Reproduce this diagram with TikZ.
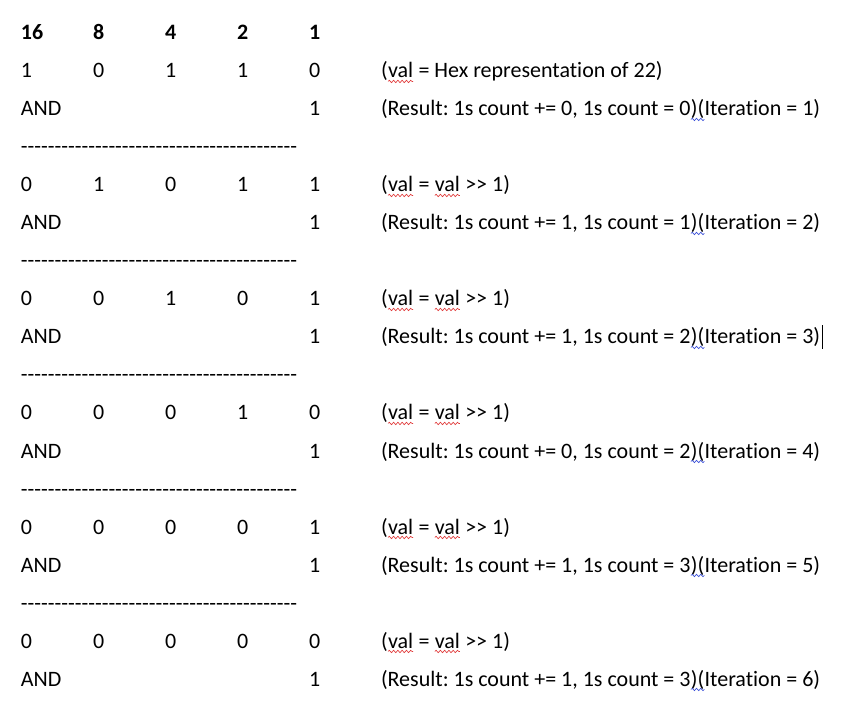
\documentclass[tikz,border=0pt]{standalone}
\usepackage{fontspec}
\setmainfont{Carlito}[Ligatures={TeXOff,NoCommon}]
\usetikzlibrary{decorations.pathmorphing}
\definecolor{spellred}{HTML}{E03A3A}
\definecolor{gramblue}{HTML}{3A4FD8}
\newcommand{\wavy}[2]{\tikz[baseline=(w.base)]{\node[inner sep=0pt,outer sep=0pt](w){#2};\draw[#1,line width=0.5pt,decorate,decoration={snake,amplitude=0.9pt,segment length=3.2pt}] ([yshift=-2.6pt]w.base west) -- ([yshift=-2.6pt]w.base east);}}
\newcommand{\dashrow}{-----------------------------------------}
\tikzset{
  txt/.style={anchor=base west,inner sep=0pt,outer sep=0pt,font=\fontsize{16.5pt}{19pt}\selectfont\frenchspacing},
  hdr/.style={txt,font=\fontsize{16.5pt}{19pt}\selectfont\bfseries},
}
\begin{document}
\begin{tikzpicture}[x=0.75pt,y=-0.75pt]
\useasboundingbox (0,0) rectangle (856,712);
% header
\node[hdr] (h16) at (21,40) {16};
\node[hdr] (h8) at (93,40) {8};
\node[hdr] (h4) at (165,40) {4};
\node[hdr] (h2) at (237,40) {2};
\node[hdr] (h1) at (309,40) {1};
% block 1
\node[txt] (a1) at (21,78) {1};
\node[txt] (b1) at (93,78) {0};
\node[txt] (c1) at (165,78) {1};
\node[txt] (d1) at (237,78) {1};
\node[txt] (e1) at (309,78) {0};
\node[txt] (v1) at (381,78) {(\wavy{spellred}{val} = Hex representation of 22)};
\node[txt] (n1) at (21,116) {AND};
\node[txt] (m1) at (309,116) {1};
\node[txt] (r1) at (381,116) {(Result: 1s count += 0, 1s count = 0\wavy{gramblue}{)(}Iteration = 1)};
\node[txt] (s1) at (21,154) {\dashrow};
% block 2
\node[txt] (a2) at (21,192) {0};
\node[txt] (b2) at (93,192) {1};
\node[txt] (c2) at (165,192) {0};
\node[txt] (d2) at (237,192) {1};
\node[txt] (e2) at (309,192) {1};
\node[txt] (v2) at (381,192) {(\wavy{spellred}{val} = \wavy{spellred}{val} >> 1)};
\node[txt] (n2) at (21,230) {AND};
\node[txt] (m2) at (309,230) {1};
\node[txt] (r2) at (381,230) {(Result: 1s count += 1, 1s count = 1\wavy{gramblue}{)(}Iteration = 2)};
\node[txt] (s2) at (21,268) {\dashrow};
% block 3
\node[txt] (a3) at (21,306) {0};
\node[txt] (b3) at (93,306) {0};
\node[txt] (c3) at (165,306) {1};
\node[txt] (d3) at (237,306) {0};
\node[txt] (e3) at (309,306) {1};
\node[txt] (v3) at (381,306) {(\wavy{spellred}{val} = \wavy{spellred}{val} >> 1)};
\node[txt] (n3) at (21,344) {AND};
\node[txt] (m3) at (309,344) {1};
\node[txt] (r3) at (381,344) {(Result: 1s count += 1, 1s count = 2\wavy{gramblue}{)(}Iteration = 3)};
\draw[line width=0.8pt] ([xshift=1.5pt,yshift=-3.4pt]r3.base east) -- ([xshift=1.5pt,yshift=14pt]r3.base east);
\node[txt] (s3) at (21,382) {\dashrow};
% block 4
\node[txt] (a4) at (21,420) {0};
\node[txt] (b4) at (93,420) {0};
\node[txt] (c4) at (165,420) {0};
\node[txt] (d4) at (237,420) {1};
\node[txt] (e4) at (309,420) {0};
\node[txt] (v4) at (381,420) {(\wavy{spellred}{val} = \wavy{spellred}{val} >> 1)};
\node[txt] (n4) at (21,458) {AND};
\node[txt] (m4) at (309,458) {1};
\node[txt] (r4) at (381,458) {(Result: 1s count += 0, 1s count = 2\wavy{gramblue}{)(}Iteration = 4)};
\node[txt] (s4) at (21,496) {\dashrow};
% block 5
\node[txt] (a5) at (21,534) {0};
\node[txt] (b5) at (93,534) {0};
\node[txt] (c5) at (165,534) {0};
\node[txt] (d5) at (237,534) {0};
\node[txt] (e5) at (309,534) {1};
\node[txt] (v5) at (381,534) {(\wavy{spellred}{val} = \wavy{spellred}{val} >> 1)};
\node[txt] (n5) at (21,572) {AND};
\node[txt] (m5) at (309,572) {1};
\node[txt] (r5) at (381,572) {(Result: 1s count += 1, 1s count = 3\wavy{gramblue}{)(}Iteration = 5)};
\node[txt] (s5) at (21,610) {\dashrow};
% block 6
\node[txt] (a6) at (21,648) {0};
\node[txt] (b6) at (93,648) {0};
\node[txt] (c6) at (165,648) {0};
\node[txt] (d6) at (237,648) {0};
\node[txt] (e6) at (309,648) {0};
\node[txt] (v6) at (381,648) {(\wavy{spellred}{val} = \wavy{spellred}{val} >> 1)};
\node[txt] (n6) at (21,686) {AND};
\node[txt] (m6) at (309,686) {1};
\node[txt] (r6) at (381,686) {(Result: 1s count += 1, 1s count = 3\wavy{gramblue}{)(}Iteration = 6)};
\end{tikzpicture}
\end{document}
